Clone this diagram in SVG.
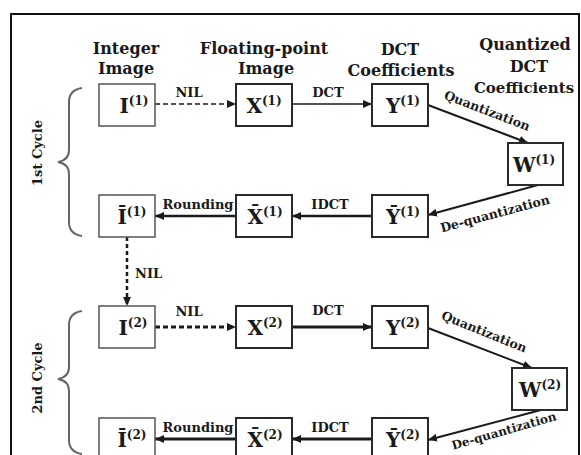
<svg xmlns="http://www.w3.org/2000/svg" width="581" height="455" viewBox="0 0 581 455">
<style>
text{font-family:"DejaVu Serif","Liberation Serif",serif;font-weight:bold;fill:#1a1a1a}
.h{font-size:16px;text-anchor:middle}
.e{font-size:13px;text-anchor:middle}
.r{font-size:12.5px;text-anchor:middle}
.cy{font-size:13px;text-anchor:middle}
.lb{text-anchor:middle}
.m{font-size:20px}
.s{font-size:12px}
.box{fill:#fff;stroke:#2a2a2a;stroke-width:2}
.boxl{fill:#fff;stroke:#555;stroke-width:1.5}
.c{fill:none;stroke:#1a1a1a}
.br{fill:none;stroke:#666;stroke-width:2}
</style>
<defs>
<marker id="ah" markerUnits="userSpaceOnUse" markerWidth="10" markerHeight="8" refX="9" refY="4" orient="auto">
<path d="M0,0 L9,4 L0,8 z" fill="#1a1a1a"/>
</marker>
</defs>
<rect width="581" height="455" fill="#fff"/>
<path d="M11,460 V14 H579 V460" fill="none" stroke="#111" stroke-width="2"/>

<g id="headers">
<text class="h" x="126" y="54">Integer</text>
<text class="h" x="126" y="74">Image</text>
<text class="h" x="264" y="54">Floating-point</text>
<text class="h" x="266" y="74">Image</text>
<text class="h" x="400" y="55">DCT</text>
<text class="h" x="401" y="76">Coefficients</text>
<text class="h" x="525" y="50">Quantized</text>
<text class="h" x="529" y="72">DCT</text>
<text class="h" x="524" y="93" style="font-size:15px">Coefficients</text>
</g>

<g id="cycle1-label">
<path class="br" d="M82,88 Q69,90 69,102 L69,150 Q69,160 58,162 Q69,164 69,174 L69,222 Q69,234 82,236"/>
<text class="cy" transform="translate(42,153) rotate(-90)">1st Cycle</text>
</g>
<g id="cycle2-label">
<path class="br" d="M82,311 Q69,313 69,325 L69,367 Q69,377 58,379 Q69,381 69,391 L69,440 Q69,452 82,454"/>
<text class="cy" transform="translate(42,378) rotate(-90)">2nd Cycle</text>
</g>

<g id="connectors">
<line class="c" x1="155" y1="104" x2="236" y2="104" stroke-width="1.5" stroke-dasharray="5,3" marker-end="url(#ah)"/>
<line class="c" x1="292" y1="104" x2="372" y2="104" stroke-width="1.5" marker-end="url(#ah)"/>
<line class="c" x1="428" y1="105" x2="528" y2="143" stroke-width="2" marker-end="url(#ah)"/>
<line class="c" x1="538" y1="185" x2="428" y2="215" stroke-width="2" marker-end="url(#ah)"/>
<line class="c" x1="372" y1="216" x2="292" y2="216" stroke-width="2.5" marker-end="url(#ah)"/>
<line class="c" x1="236" y1="216" x2="155" y2="216" stroke-width="2.5" marker-end="url(#ah)"/>
<line class="c" x1="127" y1="237" x2="127" y2="306" stroke-width="2.5" stroke-dasharray="4,3" marker-end="url(#ah)"/>
<line class="c" x1="155" y1="327" x2="236" y2="327" stroke-width="3" stroke-dasharray="5,3" marker-end="url(#ah)"/>
<line class="c" x1="292" y1="327" x2="372" y2="327" stroke-width="3" marker-end="url(#ah)"/>
<line class="c" x1="428" y1="328" x2="532" y2="368" stroke-width="2" marker-end="url(#ah)"/>
<line class="c" x1="541" y1="410" x2="428" y2="440" stroke-width="2" marker-end="url(#ah)"/>
<line class="c" x1="372" y1="439" x2="292" y2="439" stroke-width="3" marker-end="url(#ah)"/>
<line class="c" x1="236" y1="439" x2="155" y2="439" stroke-width="3" marker-end="url(#ah)"/>

<text class="e" x="189" y="97">NIL</text>
<text class="e" x="328" y="97">DCT</text>
<text class="r" transform="translate(487,111) rotate(21)" y="4">Quantization</text>
<text class="r" transform="translate(495,214) rotate(-15)" y="4">De-quantization</text>
<text class="e" x="330" y="209">IDCT</text>
<text class="e" x="198" y="209">Rounding</text>
<text class="e" x="135" y="278" style="text-anchor:start">NIL</text>
<text class="e" x="189" y="316">NIL</text>
<text class="e" x="328" y="315">DCT</text>
<text class="r" transform="translate(484,332) rotate(22)" y="4">Quantization</text>
<text class="r" style="font-size:12px" transform="translate(504,431) rotate(-16)" y="4">De-quantization</text>
<text class="e" x="330" y="432">IDCT</text>
<text class="e" x="198" y="432">Rounding</text>
</g>

<g id="I1"><rect class="boxl" x="99" y="84" width="56" height="42"/><text class="lb" x="134" y="113"><tspan class="m">I</tspan><tspan class="s" dy="-8">(1)</tspan></text></g>
<g id="X1"><rect class="box" x="236" y="84" width="56" height="42"/><text class="lb" x="264" y="113"><tspan class="m">X</tspan><tspan class="s" dy="-8">(1)</tspan></text></g>
<g id="Y1"><rect class="box" x="372" y="84" width="56" height="42"/><text class="lb" x="403" y="113"><tspan class="m">Y</tspan><tspan class="s" dy="-8">(1)</tspan></text></g>
<g id="W1"><rect class="box" x="508" y="143" width="55" height="42"/><text class="lb" x="534" y="172"><tspan class="m">W</tspan><tspan class="s" dy="-8">(1)</tspan></text></g>
<g id="Ibar1"><rect class="boxl" x="99" y="195" width="56" height="42"/><text class="lb" x="132" y="224"><tspan class="m">Ī</tspan><tspan class="s" dy="-8">(1)</tspan></text></g>
<g id="Xbar1"><rect class="box" x="236" y="195" width="56" height="42"/><text class="lb" x="265" y="224"><tspan class="m">X̄</tspan><tspan class="s" dy="-8">(1)</tspan></text></g>
<g id="Ybar1"><rect class="box" x="372" y="195" width="56" height="42"/><text class="lb" x="403" y="224"><tspan class="m">Ȳ</tspan><tspan class="s" dy="-8">(1)</tspan></text></g>

<g id="I2"><rect class="boxl" x="99" y="306" width="56" height="42"/><text class="lb" x="133" y="335"><tspan class="m">I</tspan><tspan class="s" dy="-8">(2)</tspan></text></g>
<g id="X2"><rect class="box" x="236" y="306" width="56" height="42"/><text class="lb" x="265" y="335"><tspan class="m">X</tspan><tspan class="s" dy="-8">(2)</tspan></text></g>
<g id="Y2"><rect class="box" x="372" y="306" width="56" height="42"/><text class="lb" x="403" y="335"><tspan class="m">Y</tspan><tspan class="s" dy="-8">(2)</tspan></text></g>
<g id="W2"><rect class="box" x="512" y="368" width="55" height="42"/><text class="lb" x="540" y="397"><tspan class="m">W</tspan><tspan class="s" dy="-8">(2)</tspan></text></g>
<g id="Ibar2"><rect class="boxl" x="99" y="418" width="56" height="42"/><text class="lb" x="132" y="447"><tspan class="m">Ī</tspan><tspan class="s" dy="-8">(2)</tspan></text></g>
<g id="Xbar2"><rect class="box" x="236" y="418" width="56" height="42"/><text class="lb" x="265" y="447"><tspan class="m">X̄</tspan><tspan class="s" dy="-8">(2)</tspan></text></g>
<g id="Ybar2"><rect class="box" x="372" y="418" width="56" height="42"/><text class="lb" x="403" y="447"><tspan class="m">Ȳ</tspan><tspan class="s" dy="-8">(2)</tspan></text></g>
</svg>
